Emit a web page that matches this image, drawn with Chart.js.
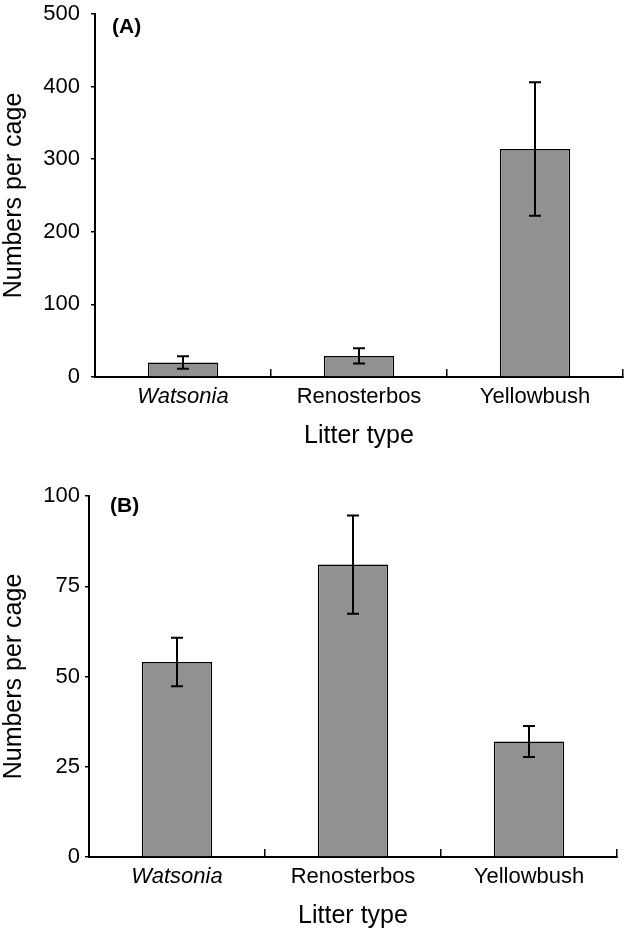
<!DOCTYPE html>
<html>
<head>
<meta charset="utf-8">
<script src="https://cdn.jsdelivr.net/npm/chart.js@4"></script>
<style>
  html, body { margin: 0; padding: 0; background: #fff; }
  .panel { position: absolute; left: 0; width: 625px; }
  #wrapA { top: 0; height: 460px; }
  #wrapB { top: 460px; height: 473px; }
</style>
</head>
<body>
<div class="panel" id="wrapA"><canvas id="chartA"></canvas></div>
<div class="panel" id="wrapB"><canvas id="chartB"></canvas></div>
<script>
// datos
const litterTypes = ['Watsonia', 'Renosterbos', 'Yellowbush'];
const italicLabel = [true, false, false];

const meansA = [20, 29, 314];
const errA   = [8.5, 10.5, 92];
const ticksA = [0, 100, 200, 300, 400, 500];

const meansB = [54, 81, 32];
const errB   = [6.7, 13.6, 4.3];
const ticksB = [0, 25, 50, 75, 100];

const FONT = 'Arial, "Liberation Sans", sans-serif';
const BAR_GREY = '#919191';

// barras de error (media +/- error) dibujadas con la escala y
const errorBars = {
  id: 'errorBars',
  afterDatasetsDraw(chart, args, opts) {
    const { ctx, scales: { y } } = chart;
    const meta = chart.getDatasetMeta(0);
    const means = chart.data.datasets[0].data;
    ctx.save();
    ctx.strokeStyle = '#000';
    ctx.lineWidth = 2;
    meta.data.forEach((bar, i) => {
      const top = y.getPixelForValue(means[i] + opts.err[i]);
      const bot = y.getPixelForValue(means[i] - opts.err[i]);
      ctx.beginPath();
      ctx.moveTo(bar.x, top); ctx.lineTo(bar.x, bot);
      ctx.moveTo(bar.x - 6, top); ctx.lineTo(bar.x + 6, top);
      ctx.moveTo(bar.x - 6, bot); ctx.lineTo(bar.x + 6, bot);
      ctx.stroke();
    });
    ctx.restore();
  }
};

// etiqueta del panel (A) / (B)
const panelTag = {
  id: 'panelTag',
  afterDraw(chart, args, opts) {
    const { ctx, chartArea } = chart;
    ctx.save();
    ctx.font = 'bold 21px ' + FONT;
    ctx.fillStyle = '#000';
    ctx.textBaseline = 'middle';
    ctx.fillText(opts.text, chartArea.left + opts.dx, chartArea.top + opts.dy);
    ctx.restore();
  }
};

function makeChart(canvasId, means, err, tickVals, p) {
  const canvas = document.getElementById(canvasId);
  return new Chart(canvas, {
    type: 'bar',
    data: {
      labels: litterTypes,
      datasets: [{
        data: means,
        backgroundColor: BAR_GREY,
        borderColor: '#000',
        borderWidth: 1.5,
        categoryPercentage: 0.4,
        barPercentage: 1.0
      }]
    },
    options: {
      responsive: true,
      maintainAspectRatio: false,
      animation: false,
      layout: { padding: { top: p.padTop, right: p.padRight, bottom: p.padBottom, left: 0 } },
      scales: {
        x: {
          offset: true,
          grid: {
            offset: true,
            drawOnChartArea: false,
            color: '#000',
            lineWidth: 1.5,
            tickLength: -8
          },
          border: { display: true, color: '#000', width: 2 },
          ticks: {
            color: '#000',
            padding: 15,
            maxRotation: 0,
            font: (c) => ({ family: FONT, size: 22, style: italicLabel[c.index] ? 'italic' : 'normal' })
          },
          title: {
            display: true,
            text: 'Litter type',
            color: '#000',
            font: { family: FONT, size: 25, lineHeight: 1.2 },
            padding: 0
          },
          afterFit: (s) => { s.height = p.xHeight; s.paddingLeft = 0; s.paddingRight = 0; }
        },
        y: {
          min: tickVals[0],
          max: tickVals[tickVals.length - 1],
          afterBuildTicks: (s) => { s.ticks = tickVals.map(v => ({ value: v })); },
          grid: {
            drawOnChartArea: false,
            color: '#000',
            lineWidth: 1.5,
            tickLength: 4
          },
          border: { display: true, color: '#000', width: 2 },
          ticks: {
            color: '#000',
            padding: p.yPad,
            font: { family: FONT, size: 22 }
          },
          title: {
            display: true,
            text: 'Numbers per cage',
            color: '#000',
            font: { family: FONT, size: 25, lineHeight: 1.1 },
            padding: 0
          },
          afterFit: (s) => { s.width = p.yWidth; s.paddingTop = 0; s.paddingBottom = 0; }
        }
      },
      plugins: {
        legend: { display: false },
        tooltip: { enabled: false },
        errorBars: { err },
        panelTag: { text: p.tag, dx: p.tagDx, dy: p.tagDy }
      }
    },
    plugins: [errorBars, panelTag]
  });
}

makeChart('chartA', meansA, errA, ticksA,
  { padTop: 14, padRight: 2, padBottom: 9, xHeight: 74, yWidth: 95, yPad: 11, tag: '(A)', tagDx: 17, tagDy: 13 });
makeChart('chartB', meansB, errB, ticksB,
  { padTop: 36, padRight: 8, padBottom: 2, xHeight: 74, yWidth: 89, yPad: 5, tag: '(B)', tagDx: 21, tagDy: 10 });
</script>
</body>
</html>
